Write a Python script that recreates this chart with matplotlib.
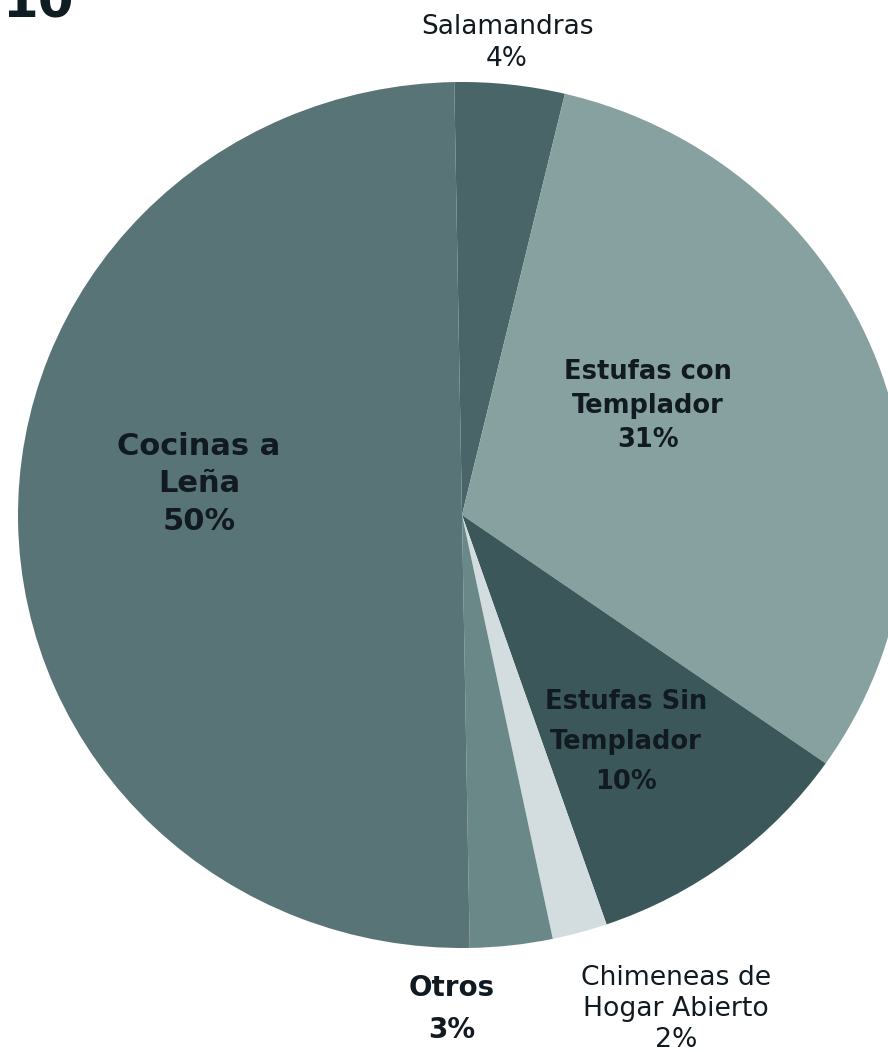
import matplotlib.pyplot as plt

# ---- data ----
categories = ["Salamandras", "Estufas con\nTemplador", "Estufas Sin\nTemplador",
              "Chimeneas de\nHogar Abierto", "Otros", "Cocinas a\nLeña"]
shares = [4, 31, 10, 2, 3, 50]
colors = ["#4a6567", "#87a0a0", "#3b575a", "#d3dddf", "#6a8888", "#597476"]

# label placement (pixel coords from top-left) and style
label_pos = [(507, 43), (648, 406), (626, 742), (676, 1009), (452, 1009), (199, 484)]
label_bold = [False, True, True, False, True, True]
label_size = [19, 18.5, 18.5, 19.2, 20, 22]
label_spacing = [1.25, 1.4, 1.72, 1.27, 1.62, 1.37]

W, H = 888, 1052
fig = plt.figure(figsize=(W / 100, H / 100), dpi=100)
ax = fig.add_axes([0, 0, 1, 1])

# scanned pie is a touch wider than tall
cx, cy, rx, ry = 462, 515, 444, 433
sy = rx / ry
ax.pie(shares, colors=colors, startangle=91, counterclock=False,
       center=(cx, (H - cy) * sy), radius=rx, frame=False,
       wedgeprops=dict(linewidth=0))

ax.set_xlim(0, W)
ax.set_ylim(0, H * sy)
ax.set_aspect("auto")
ax.axis("off")

for name, pct, (x, y), bold, fs, sp in zip(categories, shares, label_pos,
                                           label_bold, label_size, label_spacing):
    fig.text(x / W, 1 - y / H, f"{name}\n{pct}%", ha="center", va="center",
             fontsize=fs, fontweight="bold" if bold else "normal",
             color="#111a20", linespacing=sp, family="DejaVu Sans")

# page heading cut off at the top-left corner of the scan
fig.text(2 / W, 1 - 18 / H, "10", ha="left", va="baseline", fontsize=37,
         fontweight="bold", color="#0f1c22")

fig.savefig("out.png", dpi=100)
